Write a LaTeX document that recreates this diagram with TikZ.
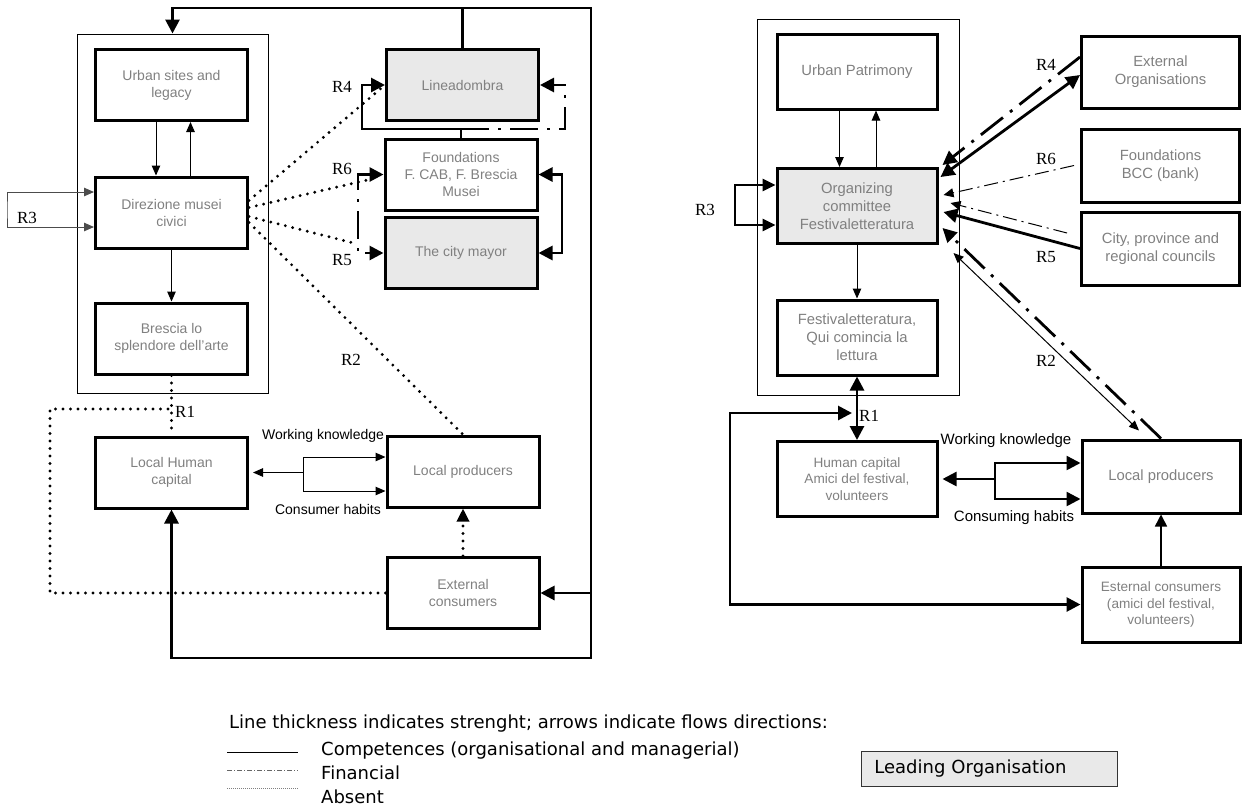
\documentclass[tikz,border=0pt]{standalone}
\usepackage{fontspec}
\setmainfont{Liberation Sans}
\newfontfamily\serifR{Liberation Serif}
\newfontfamily\legendfont{DejaVu Sans}
\usetikzlibrary{arrows.meta,positioning}

\definecolor{boxtext}{RGB}{128,128,128}
\definecolor{leadfill}{RGB}{233,233,233}

\tikzset{
  unit/.style={draw, line width=3pt, minimum width=152pt, minimum height=71pt, inner sep=1pt, align=center, text=boxtext, font=\fontsize{14}{17}\selectfont},
  leadunit/.style={unit, fill=leadfill},
  unitR/.style={unit, minimum width=160pt, minimum height=75pt, font=\fontsize{14.8}{18}\selectfont},
  leadunitR/.style={unitR, fill=leadfill},
  smallR/.style={unitR, font=\fontsize{13.6}{16.7}\selectfont},
  framebox/.style={draw, line width=1pt},
  thinflow/.style={line width=1pt, -{Triangle[length=10pt,width=8.5pt]}},
  thinboth/.style={line width=1pt, {Triangle[length=10pt,width=8.5pt]}-{Triangle[length=10pt,width=8.5pt]}},
  midflow/.style={line width=1.6pt, -{Triangle[length=12pt,width=12pt]}},
  midboth/.style={line width=2.6pt, {Triangle[length=13pt,width=12pt]}-{Triangle[length=13pt,width=12pt]}},
  strongflow/.style={line width=2.8pt, -{Triangle[length=14pt,width=14pt]}},
  strongboth/.style={line width=2.8pt, {Triangle[length=14pt,width=14pt]}-{Triangle[length=14pt,width=14pt]}},
  finflow/.style={line width=1pt, dash pattern=on 14pt off 5pt on 2pt off 5pt, -{Triangle[length=10pt,width=9pt]}},
  finance/.style={dash pattern=on 28pt off 9pt on 3pt off 9pt},
  absent/.style={line width=3.2pt, line cap=round, dash pattern=on 0pt off 7.5pt},
  rlabel/.style={font=\serifR\fontsize{17}{17}\selectfont, inner sep=0pt},
  flowlabel/.style={font=\fontsize{14}{14}\selectfont, inner sep=0pt},
  legendtext/.style={font=\legendfont\fontsize{18}{18}\selectfont, inner sep=0pt, anchor=west}
}

\begin{document}
\begin{tikzpicture}[x=1pt,y=-1pt]
\useasboundingbox (0,0) rectangle (1242,807);

% ---- left case: Brescia
\node[framebox, minimum width=191pt, minimum height=359pt] (frameL) at (172.5,213.5) {};
\node[unit] (urbL) at (171.5,85) {Urban sites and\\legacy};
\node[unit] (dirL) at (171.5,212.5) {Direzione musei\\civici};
\node[unit] (bresL) at (171.5,338.5) {Brescia lo\\splendore dell’arte};
\node[unit] (humL) at (171.5,472.5) {Local Human\\capital};
\node[leadunit] (lineaL) at (462.5,85) {Lineadombra};
\node[unit] (foundL) at (461,174.5) {Foundations\\F. CAB, F. Brescia\\Musei};
\node[leadunit] (mayorL) at (461,253) {The city mayor};
\node[unit] (prodL) at (463,471.5) {Local producers};
\node[unit] (extL) at (463,593) {External\\consumers};

\draw[thinflow] ([xshift=-15.5pt]urbL.south) -- ([xshift=-15.5pt]dirL.north);
\draw[thinflow] ([xshift=19pt]dirL.north) -- ([xshift=19pt]urbL.south);
\draw[thinflow] (dirL.south) -- (bresL.north);
\draw[thinboth, draw=black!70] ([yshift=20.5pt]dirL.west) -| (7,210) |- ([yshift=-14.5pt]dirL.west);
\node[rlabel] (r3L) at (27,218) {R3};

% loop from Lineadombra
\coordinate (topL) at (462.5,8);
\coordinate (extjoinL) at (591,593);
\draw[strongflow] (lineaL.north) -- (topL) -- (topL -| frameL.north) -- (frameL.north);
\draw[strongflow] (topL) -- (591,8) -- (591,658) -| (humL.south);
\draw[strongflow] (extjoinL) -- (extL.east);

% R4, R5, R6
\coordinate (r4L) at (461,129);
\draw[strongflow] (foundL.north) -- (r4L) -| (362,110) |- (lineaL.west);
\draw[strongflow, finance] (r4L) -| (565,100) |- (lineaL.east);
\draw[strongboth, finance] (foundL.west) -| (358,214) |- (mayorL.west);
\draw[strongboth] (foundL.east) -| (562,214) |- (mayorL.east);
\draw[absent] ([yshift=12pt]dirL.east) -- (lineaL.west);
\draw[absent] ([yshift=5pt]dirL.east) -- ([xshift=-14pt,yshift=-5pt]foundL.west);
\draw[absent] ([yshift=-4pt]dirL.east) -- ([xshift=-30pt,yshift=10pt]mayorL.west);
\draw[absent] ([yshift=-10pt]dirL.east) -- (prodL.north);
\node[rlabel] (r4labL) at (342,87) {R4};
\node[rlabel] (r6labL) at (342,169) {R6};
\node[rlabel] (r5labL) at (342,260) {R5};
\node[rlabel] (r2labL) at (351,360) {R2};

% R1
\coordinate (r1L) at (171.5,409);
\draw[absent] (bresL.south) -- (humL.north);
\draw[absent] (extL.west) -| (50,500) |- (r1L);
\node[rlabel, anchor=west] (r1labL) at (175,412) {R1};
\draw[absent, -{Triangle[length=13pt,width=12pt]}] (extL.north) -- (prodL.south);

\coordinate (wkL) at (303,472.5);
\draw[thinflow] (wkL) -- ([xshift=4pt]humL.east);
\draw[thinflow] (wkL) |- ([yshift=14.5pt]prodL.west);
\draw[thinflow] (wkL) |- ([yshift=-19.5pt]prodL.west);
\node[flowlabel] (wklabL) at (323,436) {Working knowledge};
\node[flowlabel] (chlabL) at (328,509) {Consumer habits};

% ---- right case: Mantova
\node[framebox, minimum width=202pt, minimum height=376pt] (frameR) at (858,207) {};
\node[unitR] (urbR) at (857,71.5) {Urban Patrimony};
\node[leadunitR] (orgR) at (857,206) {Organizing\\committee\\Festivaletteratura};
\node[unitR] (festR) at (857,337.5) {Festivaletteratura,\\Qui comincia la\\lettura};
\node[smallR] (humR) at (857,479) {Human capital\\Amici del festival,\\volunteers};
\node[unitR, minimum width=158pt, minimum height=72pt] (extoR) at (1160.5,72) {External\\Organisations};
\node[unitR, minimum width=158pt, minimum height=73pt] (foundR) at (1160.5,165.5) {Foundations\\BCC (bank)};
\node[unitR, minimum width=158pt, minimum height=73pt] (cityR) at (1160.5,248.5) {City, province and\\regional councils};
\node[unitR, minimum width=158pt, minimum height=73pt] (prodR) at (1161,476.5) {Local producers};
\node[smallR, minimum width=158pt] (esterR) at (1161,604.5) {Esternal consumers\\(amici del festival,\\volunteers)};

\draw[thinflow] ([xshift=-17.5pt]urbR.south) -- ([xshift=-17.5pt]orgR.north);
\draw[thinflow] ([xshift=19pt]orgR.north) -- ([xshift=19pt]urbR.south);
\draw[thinflow] (orgR.south) -- (festR.north);
\draw[midboth] ([yshift=21pt]orgR.west) -| (735,205) |- ([yshift=-19pt]orgR.west);
\node[rlabel] (r3labR) at (705,210) {R3};

% R4, R6, R5, R2
\draw[strongflow, finance] ([yshift=15pt]extoR.west) -- ([xshift=4pt,yshift=2pt]orgR.north east);
\draw[strongboth] ([yshift=-3pt]extoR.west) -- ([xshift=2pt,yshift=-10pt]orgR.north east);
\draw[finflow] ([xshift=-6pt]foundR.west) -- ([xshift=5pt,yshift=11pt]orgR.east);
\draw[finflow] ([xshift=-13pt,yshift=15.5pt]cityR.west) -- ([xshift=12pt,yshift=3pt]orgR.east);
\draw[strongflow] (cityR.west) -- ([xshift=5pt,yshift=-6pt]orgR.east);
\draw[strongflow, finance] (prodR.north) -- ([xshift=4pt,yshift=-22pt]orgR.east);
\draw[thinboth] ([xshift=-22pt,yshift=8pt]prodR.north) -- ([xshift=15pt,yshift=-8pt]orgR.south east);
\node[rlabel] (r4labR) at (1046,65) {R4};
\node[rlabel] (r6labR) at (1046,159) {R6};
\node[rlabel] (r5labR) at (1046,257) {R5};
\node[rlabel] (r2labR) at (1046,361) {R2};

% R1
\coordinate (r1R) at (852,413);
\draw[strongboth] (festR.south) -- (humR.north);
\draw[strongboth] (r1R) -| (730,500) |- (esterR.west);
\node[rlabel, anchor=west] (r1labR) at (859,416) {R1};
\draw[midflow] (esterR.north) -- (prodR.south);

\coordinate (wkR) at (995,479);
\draw[strongflow, line width=2.5pt] (wkR) -- ([xshift=4pt]humR.east);
\draw[strongflow, line width=2.5pt] (wkR) |- ([yshift=13.5pt]prodR.west);
\draw[strongflow, line width=2.5pt] (wkR) |- ([yshift=-22.5pt]prodR.west);
\node[flowlabel, font=\fontsize{15}{15}\selectfont] (wklabR) at (1006,441) {Working knowledge};
\node[flowlabel, font=\fontsize{15}{15}\selectfont] (chlabR) at (1014,518) {Consuming habits};

% ---- legend
\node[legendtext] (legtitle) at (229,724) {Line thickness indicates strenght; arrows indicate flows directions:};
\draw[line width=1pt] (227,752) -- (298,752);
\draw[line width=0.8pt, draw=black!60, dash pattern=on 5pt off 2pt on 1pt off 2pt] (227,770) -- (298,770);
\draw[line width=0.6pt, draw=black!50, dash pattern=on 0.6pt off 1.4pt] (227,788) -- (298,788);
\node[legendtext] (legcomp) at (321,751) {Competences (organisational and managerial)};
\node[legendtext] (legfin) at (321,773) {Financial};
\node[legendtext] (legabs) at (321,797) {Absent};
\node[draw=black!80, fill=leadfill, line width=0.8pt, anchor=north west, minimum height=35pt,
      text width=230pt, inner xsep=13pt, inner ysep=0pt, align=left,
      font=\legendfont\fontsize{18}{18}\selectfont] (legbox) at (861,751) {Leading Organisation};
\end{tikzpicture}
\end{document}
